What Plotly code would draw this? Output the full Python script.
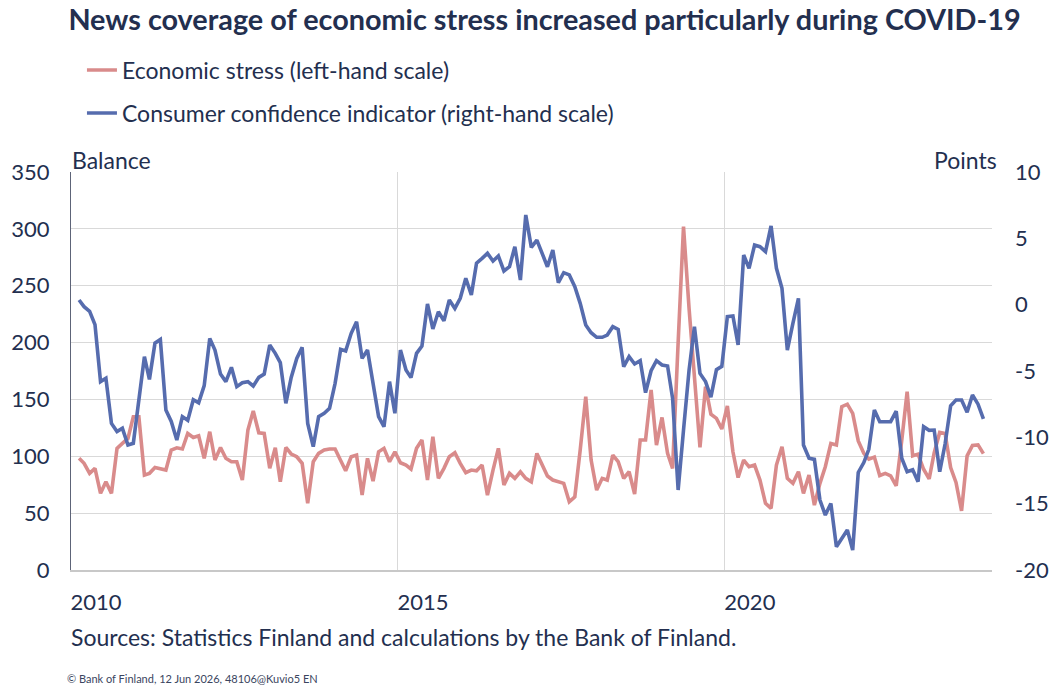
import pandas as pd
import plotly.graph_objects as go

# ---- data (monthly) ----
months = pd.date_range("2010-02-01", periods=167, freq="MS") + pd.Timedelta(days=14)

economic_stress = [
    98.2, 93.8, 85.0, 89.4, 67.4, 77.6, 67.4, 107.0, 111.3, 115.7, 134.8, 134.8,
    83.5, 85.0, 90.2, 89.4, 87.9, 105.5, 107.5, 106.4, 120.1, 116.6, 118.1, 98.2,
    121.6, 96.7, 107.8, 98.2, 95.2, 95.2, 79.1, 123.1, 139.8, 120.7, 120.1, 89.4,
    107.5, 77.6, 107.8, 102.0, 99.6, 93.8, 58.6, 95.2, 102.6, 105.5, 106.4, 106.4,
    96.7, 87.3, 99.6, 101.1, 65.9, 98.2, 78.2, 104.0, 107.0, 95.2, 104.0, 94.3,
    92.3, 88.8, 107.0, 114.3, 79.1, 117.2, 80.6, 89.4, 99.6, 103.1, 93.8, 85.6,
    87.9, 87.3, 92.3, 65.9, 87.9, 107.0, 74.7, 85.0, 80.6, 86.4, 80.6, 77.6,
    102.5, 93.8, 82.6, 79.1, 77.6, 76.2, 60.0, 64.4, 105.5, 152.4, 96.7, 70.3,
    80.6, 79.1, 101.1, 95.2, 80.6, 86.4, 66.8, 114.3, 114.3, 158.3, 109.9, 134.2,
    102.5, 89.4, 200.0, 301.9, 230.0, 165.0, 107.9, 161.2, 137.0, 133.3, 124.0, 144.3,
    104.0, 81.3, 96.7, 90.8, 92.3, 79.1, 58.6, 54.2, 92.3, 108.4, 80.6, 76.2,
    86.4, 67.4, 83.5, 57.1, 76.2, 90.8, 111.3, 109.9, 143.6, 145.8, 137.7, 113.5,
    102.6, 97.5, 99.3, 83.1, 85.0, 82.8, 74.0, 114.0, 156.8, 100.4, 101.9, 88.6,
    80.1, 103.0, 121.0, 120.1, 90.0, 77.0, 52.0, 100.4, 109.5, 110.0, 102.3,
]

consumer_confidence = [
    0.35, -0.15, -0.5, -1.5, -5.8, -5.55, -8.95, -9.57, -9.32, -10.58, -10.45, -7.2,
    -3.92, -5.63, -2.9, -2.63, -7.94, -8.8, -10.2, -8.44, -8.72, -7.16, -7.4, -6.1,
    -2.54, -3.42, -5.23, -5.8, -4.72, -6.18, -5.88, -5.8, -6.13, -5.48, -5.23, -3.04,
    -3.67, -4.37, -7.44, -5.48, -4.05, -3.22, -8.95, -10.7, -8.44, -8.19, -7.82, -5.93,
    -3.37, -3.49, -2.16, -1.28, -4.05, -3.42, -5.93, -8.44, -9.2, -5.8, -8.19, -3.42,
    -4.93, -5.5, -3.67, -3.12, 0.05, -1.83, -0.53, -1.21, 0.35, -0.28, 0.48, 1.99,
    0.73, 3.12, 3.49, 3.87, 3.29, 3.67, 2.54, 2.86, 4.37, 1.86, 6.76, 4.32,
    4.87, 3.87, 2.86, 4.12, 1.66, 2.41, 2.24, 1.36, 0.1, -1.53, -2.11, -2.46,
    -2.46, -2.29, -1.66, -1.86, -4.67, -3.92, -4.47, -4.22, -6.63, -4.98, -4.22, -4.55,
    -4.62, -7.06, -13.97, -9.45, -4.93, -1.66, -5.18, -5.8, -6.97, -4.9, -4.65, -0.9,
    -0.85, -3.04, 3.74, 2.74, 4.5, 4.37, 4.0, 5.93, 2.74, 1.23, -3.42, -1.41,
    0.48, -10.58, -11.58, -11.66, -14.73, -15.86, -14.98, -18.24, -17.62, -16.99, -18.5, -12.65,
    -11.9, -10.9, -7.94, -8.82, -8.82, -8.82, -8.03, -11.58, -12.59, -12.44, -13.34, -9.2,
    -9.47, -9.45, -12.59, -10.5, -7.62, -7.19, -7.19, -8.1, -6.81, -7.5, -8.6,
]

x_tick_dates = ["2010-01-01", "2015-01-01", "2020-01-01"]
x_tick_labels = ["2010", "2015", "2020"]
left_ticks = [0, 50, 100, 150, 200, 250, 300, 350]
right_ticks = [-20, -15, -10, -5, 0, 5, 10]
right_tick_labels = ["-20", "-15", "-10", "-5", "0", "5", "10"]

TEXT = "#232f4f"
FONT = "Lato"
RED = "#d98b8b"
BLUE = "#566cae"

fig = go.Figure()
fig.add_trace(go.Scatter(
    x=months, y=economic_stress, mode="lines",
    name="Economic stress (left-hand scale)",
    line=dict(color=RED, width=3.6), yaxis="y", legend="legend",
))
fig.add_trace(go.Scatter(
    x=months, y=consumer_confidence, mode="lines",
    name="Consumer confidence indicator (right-hand scale)",
    line=dict(color=BLUE, width=3.6), yaxis="y2", legend="legend2",
))

fig.update_layout(
    width=1052, height=686,
    paper_bgcolor="white", plot_bgcolor="white",
    margin=dict(l=71, r=60, t=172, b=116),
    font=dict(family=FONT, color=TEXT, size=23),
    title=dict(
        text="<b>News coverage of economic stress increased particularly during COVID-19</b>",
        x=0.065, xanchor="left", y=0.971, yanchor="middle",
        font=dict(family=FONT, size=28.8, color=TEXT),
    ),
    showlegend=True,
    legend=dict(x=0.0119, xanchor="left", y=(570 - 70) / 398, yanchor="middle",
                bgcolor="rgba(0,0,0,0)", font=dict(size=23, color=TEXT, family=FONT)),
    legend2=dict(x=0.0119, xanchor="left", y=(570 - 113) / 398, yanchor="middle",
                 bgcolor="rgba(0,0,0,0)", font=dict(size=23, color=TEXT, family=FONT)),
    xaxis=dict(
        type="date", range=["2010-01-01", "2024-02-01"], automargin=False,
        tickmode="array", tickvals=x_tick_dates, ticktext=x_tick_labels,
        showgrid=True, gridcolor="#d9d9d9", gridwidth=1,
        showline=True, linecolor="#c8c8c8", linewidth=1.5,
        ticks="", ticklabelshift=25, ticklabelstandoff=12,
        tickfont=dict(size=22, color=TEXT), zeroline=False,
    ),
    yaxis=dict(
        range=[0, 350], tickmode="array", tickvals=left_ticks, automargin=False,
        showgrid=True, gridcolor="#d9d9d9", gridwidth=1,
        showline=True, linecolor="#5d6478", linewidth=1,
        ticks="", ticklabelstandoff=16, zeroline=False,
        tickfont=dict(size=22, color=TEXT),
    ),
    yaxis2=dict(
        overlaying="y", side="right", range=[-20, 10], automargin=False,
        tickmode="array", tickvals=right_ticks, ticktext=right_tick_labels,
        showgrid=False, zeroline=False, showline=False, ticks="",
        ticklabelstandoff=22, tickfont=dict(size=22, color=TEXT),
    ),
    annotations=[
        dict(text="Balance", xref="paper", yref="paper", x=-0.001, y=(570 - 160) / 398,
             xanchor="left", yanchor="middle", showarrow=False,
             font=dict(size=23, color=TEXT, family=FONT)),
        dict(text="Points", xref="paper", yref="paper", x=(999 - 71) / 921, y=(570 - 160) / 398,
             xanchor="right", yanchor="middle", showarrow=False,
             font=dict(size=23, color=TEXT, family=FONT)),
        dict(text="Sources: Statistics Finland and calculations by the Bank of Finland.",
             xref="paper", yref="paper", x=-0.002, y=(570 - 637) / 398,
             xanchor="left", yanchor="middle", showarrow=False,
             font=dict(size=23, color=TEXT, family=FONT)),
        dict(text="© Bank of Finland, 12 Jun 2026, 48106@Kuvio5 EN",
             xref="paper", yref="paper", x=(65 - 71) / 921, y=(570 - 678) / 398,
             xanchor="left", yanchor="middle", showarrow=False,
             font=dict(size=11, color="#3a4560", family=FONT)),
    ],
)

fig.write_html(
    "out.html",
    config={"displayModeBar": False},
    post_script="document.body.style.margin='0px';document.documentElement.style.margin='0px';",
)
